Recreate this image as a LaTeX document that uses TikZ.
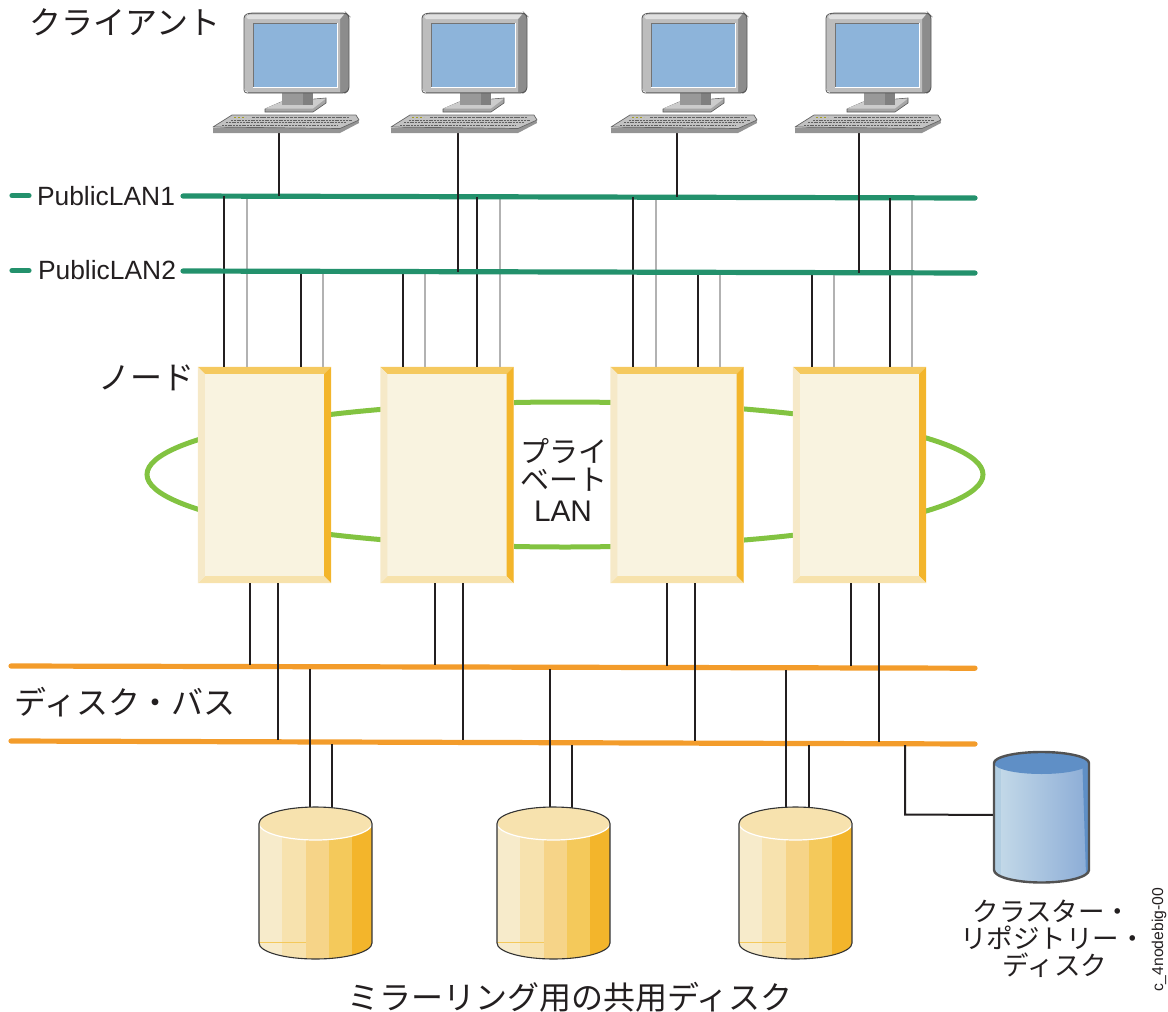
\documentclass[tikz,border=0pt]{standalone}
\usepackage{fontspec}
\setmainfont{Liberation Sans}
\newfontfamily\jp{Noto Sans CJK JP}
\usetikzlibrary{calc}
\definecolor{txt}{HTML}{231F20}
\definecolor{lan}{HTML}{23916C}
\definecolor{dbus}{HTML}{F39C2B}
\definecolor{ring}{HTML}{82C341}
\definecolor{sface}{HTML}{F9F3E0}
\definecolor{stop}{HTML}{F5C95F}
\definecolor{sright}{HTML}{F3B52B}
\definecolor{sleft}{HTML}{F6E9C8}
\definecolor{sbot}{HTML}{F7E2AC}
\definecolor{c1}{HTML}{F7EBCB}
\definecolor{c2}{HTML}{F7E2AE}
\definecolor{c3}{HTML}{F6D488}
\definecolor{c4}{HTML}{F4C95B}
\definecolor{c5}{HTML}{F3B52B}
\definecolor{scr}{HTML}{8DB4DA}
\definecolor{bl}{HTML}{C6DBE9}
\definecolor{br}{HTML}{8BACD6}
\definecolor{bs}{HTML}{B2CEE2}
\definecolor{bt}{HTML}{5F8FC6}
\tikzset{
  blk/.style={draw=txt,line width=2pt},
  gry/.style={draw=black!30,line width=2pt},
  lanbus/.style={draw=lan,line width=5.2pt,line cap=round},
  diskbus/.style={draw=dbus,line width=5.2pt,line cap=round},
  srv/.style={fill=sface,inner sep=0pt,minimum width=133pt,minimum height=216pt},
  jl/.style={text=txt,font=\jp\fontsize{32}{32}\selectfont,inner sep=0pt},
  jm/.style={text=txt,font=\jp\fontsize{29}{29}\selectfont,inner sep=0pt},
  js/.style={text=txt,font=\jp\fontsize{26.5}{26.5}\selectfont,inner sep=0pt},
  ll/.style={text=txt,font=\fontsize{26.4}{26.4}\selectfont,inner sep=0pt},
  pc/.pic={
    % keyboard
    \fill[black!42] (213,128) -- (213,133) -- (340,133) -- (359,123) -- (358,118) -- cycle;
    \fill[black!24,draw=black!60,line width=.7pt,line join=round] (213,127) -- (232,115) -- (356,115) -- (359,120) -- (340,128.5) -- cycle;
    \draw[black!62,line width=1pt,dash pattern=on 3pt off .8pt] (252,117) -- (349,117);
    \draw[black!62,line width=1pt,dash pattern=on 2pt off .8pt] (231,120) -- (352,120);
    \draw[black!62,line width=1pt,dash pattern=on 2pt off .8pt] (226,122.5) -- (346,122.5);
    \draw[black!62,line width=1pt,dash pattern=on 2pt off .8pt] (222,125) -- (338,125);
    \draw[olive!80,line width=1pt,dash pattern=on 2pt off 2pt] (234,117) -- (246,117);
    % base and neck
    \fill[black!35,draw=black!65,line width=.6pt] (265,109) -- (281,102) -- (326,98) -- (326,103) -- (313,112) -- (265,112) -- cycle;
    \fill[black!20] (265,108.5) -- (281,102) -- (326,98.5) -- (313,108.5) -- cycle;
    \fill[black!40] (282,92) rectangle (313,105);
    \fill[black!50] (303,92) rectangle (313,105);
    % monitor
    \fill[black!45] (248,13) -- (345,13) to[out=0,in=90] (349,17) -- (349,89) to[out=270,in=0] (345,93) -- (248,93) -- cycle;
    \fill[black!26] (244,18) to[out=90,in=210] (250,14) -- (344,14) -- (340,19) -- (340,92) -- (248,92) to[out=180,in=270] (244,88) -- cycle;
    \fill[black!12] (246,17) to[out=80,in=200] (251,14.5) -- (344,14.5) -- (340,19) -- (248,19) -- cycle;
    \draw[black!65,line width=.8pt,rounded corners=3pt] (244,93) -- (244,15) -- (250,13) -- (346,13) -- (349,16) -- (349,90) -- (345,93) -- cycle;
    \fill[white] (253,23) rectangle (337.5,87.5);
    \fill[black!55] (253,23) rectangle (337,86.5);
    \fill[scr] (253.6,23.8) rectangle (337,86.5);
  },
  disk/.pic={
    \begin{scope}
      \clip (259,823.5) -- (259,943) arc[start angle=180,end angle=0,x radius=56.5,y radius=16] -- (372,823.5) -- cycle;
      \fill[c1] (259,815) rectangle (282.3,965);
      \fill[c2] (282,815) rectangle (306,965);
      \fill[c3] (305.7,815) rectangle (329,965);
      \fill[c4] (328.7,815) rectangle (352,965);
      \fill[c5] (351.7,815) rectangle (373,965);
      \draw[c4,line width=.8pt] (259,942) -- (306,942);
    \end{scope}
    \fill[c2] (315.5,823.5) ellipse[x radius=56.5,y radius=16.5];
    \draw[white,line width=1.2pt] (259,823.5) arc[start angle=180,end angle=0,x radius=56.5,y radius=16.5];
    \draw[black!80,line width=1.1pt] (259,943) -- (259,823.5) arc[start angle=180,end angle=360,x radius=56.5,y radius=16.5] -- (372,943) arc[start angle=0,end angle=180,x radius=56.5,y radius=16];
  },
}
\newcommand\wire[4]{\pgfmathsetmacro\wt{(#2-11)/964}\draw[#1] ($(#3a)!\wt!(#3b)$) -- ($(#4a)!\wt!(#4b)$);}
\newcommand\server[2]{%
  \node[srv] (#1) at (#2,475) {};
  \fill[stop] (#1.north west) -- (#1.north east) -- ($(#1.north east)+(-7,7)$) -- ($(#1.north west)+(7,7)$) -- cycle;
  \fill[sright] (#1.north east) -- (#1.south east) -- ($(#1.south east)+(-7,-7)$) -- ($(#1.north east)+(-7,7)$) -- cycle;
  \fill[sbot] (#1.south west) -- (#1.south east) -- ($(#1.south east)+(-7,-7)$) -- ($(#1.south west)+(7,-7)$) -- cycle;
  \fill[sleft] (#1.north west) -- (#1.south west) -- ($(#1.south west)+(7,-7)$) -- ($(#1.north west)+(7,7)$) -- cycle;
}
\begin{document}
\begin{tikzpicture}[x=1pt,y=-1pt]
\useasboundingbox (0,0) rectangle (1168,1012);
% bus geometry
\coordinate (clienta) at (11,133); \coordinate (clientb) at (975,133);
\coordinate (lanAa) at (11,195.6); \coordinate (lanAb) at (975,198);
\coordinate (lanBa) at (11,270.6); \coordinate (lanBb) at (975,273);
\coordinate (busAa) at (11,666); \coordinate (busAb) at (975,668.2);
\coordinate (busBa) at (11,741); \coordinate (busBb) at (975,744);
\coordinate (busAua) at (11,664); \coordinate (busAub) at (975,666.2);
\coordinate (busAda) at (11,668); \coordinate (busAdb) at (975,670.2);
\coordinate (busBua) at (11,739); \coordinate (busBub) at (975,742);
\coordinate (busBda) at (11,743); \coordinate (busBdb) at (975,746);
\coordinate (diskTa) at (11,812); \coordinate (diskTb) at (975,812);
% private LAN ring
\draw[ring,line width=5pt] (565,474.5) ellipse[x radius=418,y radius=72.5];
% servers
\server{n1}{264.5}
\server{n2}{447}
\server{n3}{677}
\server{n4}{859.5}
\coordinate (sTa) at (11,0 |- n1.north); \coordinate (sTb) at (975,0 |- n1.north);
\coordinate (sBa) at (11,0 |- n1.south); \coordinate (sBb) at (975,0 |- n1.south);
% wires and buses, in stacking order
\foreach \x in {247,500,656,912}{\wire{gry}{\x}{lanA}{sT}}
\draw[lanbus] (12,195.6) -- (29,195.6);
\draw[lanbus] (183,196) -- (lanAb);
\foreach \x in {224,477,633,890}{\wire{blk}{\x}{lanA}{sT}}
\foreach \x in {301,403,698,812}{\wire{blk}{\x}{lanB}{sT}}
\foreach \x in {323,425,720,834}{\wire{gry}{\x}{lanB}{sT}}
\draw[lanbus] (12,270.6) -- (29,270.6);
\draw[lanbus] (183,271) -- (lanBb);
\foreach \x in {279,677}{\wire{blk}{\x}{client}{lanA}}
\foreach \x in {458,859}{\wire{blk}{\x}{client}{lanB}}
\draw[diskbus] (busAa) -- (busAb);
\draw[diskbus] (busBa) -- (busBb);
\foreach \x in {250,435,667,851}{\wire{blk}{\x}{sB}{busAu}}
\foreach \x in {278,463,695,879}{\wire{blk}{\x}{sB}{busBu}}
\foreach \x in {310,550,786}{\wire{blk}{\x}{busAd}{diskT}}
\foreach \x in {332,572,809}{\wire{blk}{\x}{busBd}{diskT}}
\coordinate (cl) at (905,814.5);
\draw[blk] (905,745) -- (cl) -- (995,815);
% clients
\pic (pa) at (0,0) {pc};
\pic (pb) at (178,0) {pc};
\pic (pc) at (398,0) {pc};
\pic (pd) at (582,0) {pc};
% disks
\pic (da) at (0,0) {disk};
\pic (db) at (238,0) {disk};
\pic (dc) at (480,0) {disk};
% cluster repository disk
\begin{scope}
  \clip (994,763) -- (994,870) arc[start angle=180,end angle=0,x radius=47.5,y radius=12.5] -- (1089,763) -- cycle;
  \shade[left color=bl,right color=br] (994,752) rectangle (1089,884);
  \fill[bs] (994,752) rectangle (1001,884);
  \fill[bt] (1082,752) -- (1089,752) -- (1089,884) -- (1086,875) -- cycle;
\end{scope}
\fill[bt] (1041.5,763) ellipse[x radius=47.5,y radius=11];
\draw[black!68,line width=2.4pt] (994,870) -- (994,763) arc[start angle=180,end angle=360,x radius=47.5,y radius=11] -- (1089,870) arc[start angle=0,end angle=180,x radius=47.5,y radius=12.5];
% labels
\node[jl] (t1) at (125,22) {クライアント};
\node[ll] (t2) at (106,196) {PublicLAN1};
\node[ll] (t3) at (107,270) {PublicLAN2};
\node[jl] (t4) at (146,378) {ノード};
\node[jl] (t5) at (125,702) {ディスク・バス};
\node[jm] (t6) at (564,451) {プライ};
\node[jm] (t7) at (564,480) {ベート};
\node[text=txt,inner sep=0pt,font=\fontsize{29.8}{29.8}\selectfont] (t8) at (563,511) {LAN};
\node[jl] (t9) at (570,997) {ミラーリング用の共用ディスク};
\node[js] (t10) at (1052,911) {クラスター・};
\node[js] (t11) at (1053,938) {リポジトリー・};
\node[js] (t12) at (1055,965) {ディスク};
\node[text=txt,inner sep=0pt,rotate=90,font=\fontsize{15.7}{15.7}\selectfont] (t13) at (1159,940) {c\_4nodebig-00};
\end{tikzpicture}
\end{document}
